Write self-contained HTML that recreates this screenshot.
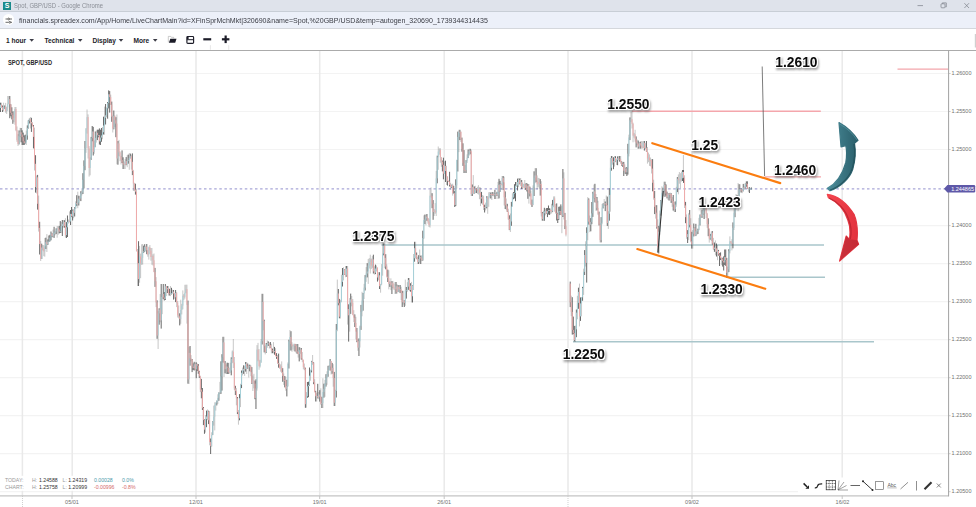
<!DOCTYPE html>
<html><head><meta charset="utf-8"><title>Spot, GBP/USD</title>
<style>
*{margin:0;padding:0;box-sizing:border-box}
html,body{width:976px;height:507px;overflow:hidden;background:#fff;font-family:"Liberation Sans",sans-serif}
#titlebar{position:absolute;left:0;top:0;width:976px;height:10.8px;background:#dfe3eb}
#titlebar .ico{position:absolute;left:3px;top:1.5px;width:8px;height:8px;background:#1a8a8a;color:#fff;font-size:7px;font-weight:bold;line-height:8px;text-align:center}
#titlebar .t{position:absolute;left:14px;top:1.2px;font-size:7px;line-height:9px;color:#8a8e96;white-space:nowrap;transform-origin:0 0;transform:scaleX(0.845)}
#urlbar{position:absolute;left:0;top:10.8px;width:976px;height:17.6px;background:#ecf0f9;border-top:1px solid #c8ced6}
#urlbar .c{position:absolute;left:3px;top:2.5px;width:11px;height:11px;border-radius:50%;background:#fff}
#urlbar .u{position:absolute;left:19px;top:4.1px;font-size:7.8px;line-height:10px;color:#3a3c44;white-space:nowrap;transform-origin:0 0;transform:scaleX(0.905)}
#tool{position:absolute;left:0;top:28.4px;width:976px;height:22.4px;background:#fff;border-top:1.2px solid #d4d7dc;border-bottom:1.3px solid #ababab}
#tool span{position:absolute;top:7.4px;font-size:6.6px;line-height:8px;font-weight:bold;color:#1c1c28;white-space:nowrap}
svg{position:absolute;left:0;top:0}
.lbl{font-family:"Liberation Sans",sans-serif;font-weight:bold;font-size:13.8px;fill:#0c0c0c}
.ax{font-family:"Liberation Sans",sans-serif;font-size:5.5px;fill:#707070}
.st{font-family:"Liberation Sans",sans-serif;font-size:5.2px}
</style></head><body>
<div id="titlebar"><div class="ico">S</div><div class="t">Spot, GBP/USD - Google Chrome</div></div>
<div id="urlbar"><div class="c"></div><div class="u">financials.spreadex.com/App/Home/LiveChartMain?id=XFinSprMchMkt|320690&amp;name=Spot,%20GBP/USD&amp;temp=autogen_320690_1739344314435</div></div>
<div id="tool">
<span style="left:6px">1 hour</span><span style="left:44.5px">Technical</span><span style="left:92.5px">Display</span><span style="left:133.5px">More</span>
</div>
<svg width="976" height="507" viewBox="0 0 976 507">
<defs>
<filter id="glow" x="-20%" y="-40%" width="140%" height="200%" color-interpolation-filters="sRGB">
<feMorphology in="SourceAlpha" operator="dilate" radius="1.1" result="d"/>
<feGaussianBlur in="d" stdDeviation="0.5" result="b"/>
<feComponentTransfer in="b" result="b2"><feFuncA type="linear" slope="1.5" intercept="0"/></feComponentTransfer>
<feFlood flood-color="#fff"/><feComposite in2="b2" operator="in" result="w"/>
<feGaussianBlur in="d" stdDeviation="1.0" result="sb"/>
<feOffset in="sb" dx="1.1" dy="1.5" result="so"/>
<feFlood flood-color="#666" flood-opacity="0.58"/><feComposite in2="so" operator="in" result="s"/>
<feMerge><feMergeNode in="s"/><feMergeNode in="w"/><feMergeNode in="SourceGraphic"/></feMerge>
</filter>
<linearGradient id="tg" x1="0" y1="0" x2="1" y2="0"><stop offset="0" stop-color="#4a8c9a"/><stop offset="1" stop-color="#2a5e6a"/></linearGradient>
<linearGradient id="rg" x1="0" y1="0" x2="1" y2="0"><stop offset="0" stop-color="#f4464f"/><stop offset="1" stop-color="#e2323e"/></linearGradient>
</defs>
<!-- title controls -->
<g stroke="#7a7e86" stroke-width="0.7" fill="none">
<path d="M917.5 5.6h5.5"/><rect x="941" y="3.8" width="4" height="4" rx="0.8"/><path d="M942.3 3.8v-0.9h4v4h-1"/><path d="M964.4 3.2l4.6 4.8M969 3.2l-4.6 4.8"/>
</g>
<!-- url icon -->
<g stroke="#444" stroke-width="0.8" fill="none"><path d="M5.5 19h2M9.5 19h2.5M5.5 22.3h3M10.8 22.3h1.2"/><circle cx="8.6" cy="19" r="0.9"/><circle cx="9.8" cy="22.3" r="0.9"/></g>
<!-- toolbar icons -->
<g fill="#1c1c28"><g fill="#3c3c46"><path d="M29.4 39.1h4.6l-2.3 2.7z"/><path d="M77.9 39.1h4.6l-2.3 2.7z"/><path d="M118.7 39.1h4.6l-2.3 2.7z"/><path d="M152.9 39.1h4.6l-2.3 2.7z"/></g>
<path d="M170.3 38.8h6.2l-1.3 4h-6.3z"/>
<path d="M186.9 36.4h1.7v2.6h-1.7z"/>
<rect x="203.3" y="38.2" width="7.9" height="2.2"/><rect x="221.9" y="38.2" width="7.5" height="2.2"/><rect x="224.55" y="35.5" width="2.2" height="7.6"/>
</g>
<path d="M168.3 42.4v-6h2.4l0.7 0.9h2.3v1.4" stroke="#aaa" stroke-width="0.6" fill="none"/>
<rect x="186.9" y="36.5" width="6.7" height="6.8" rx="0.9" stroke="#1c1c28" stroke-width="1.15" fill="none"/><path d="M186.9 39.7h6.7" stroke="#1c1c28" stroke-width="1"/>
<path d="M210.4 45.2v4.6M228.7 45.2v4.6" stroke="#dcdcdc" stroke-width="0.7"/>
<rect x="974.8" y="34" width="1.2" height="13.5" fill="#d0d0d0"/>
<!-- grid -->
<g stroke="#f3f3f3" stroke-width="1.2">
<path d="M0 73.5H948M0 111.5H948M0 149.5H948M0 225.6H948M0 263.6H948M0 301.6H948M0 339.6H948M0 377.7H948M0 415.7H948M0 453.7H948M0 491.7H948"/>
</g>
<g stroke="#e9e9e9" stroke-width="1.5">
<path d="M22.4 51V496M72.2 51V496M196 51V496M319.7 51V496M444.2 51V496M568 51V496M692 51V496M842.2 51V496"/>
</g>
<path d="M22.5 496V507M568 496V507" stroke="#bbb" stroke-width="0.7" stroke-dasharray="1 1"/>
<path d="M72 496v3M196 496v3M319.7 496v3M444.2 496v3M692 496v3M842.2 496v3" stroke="#aaa" stroke-width="0.7"/>
<!-- axes -->
<path d="M0 495.8H948.6" stroke="#c4c4c4" stroke-width="1.3"/>
<path d="M948.6 50.5V496.4" stroke="#a2a2a2" stroke-width="1"/>
<g stroke="#aaa" stroke-width="0.6"><path d="M948.6 73.5h2M948.6 111.5h2M948.6 149.5h2M948.6 225.6h2M948.6 263.6h2M948.6 301.6h2M948.6 339.6h2M948.6 377.7h2M948.6 415.7h2M948.6 453.7h2M948.6 491.7h2"/></g>
<g class="ax">
<text x="951.6" y="75.0">1.26000</text><text x="951.6" y="113.0">1.25500</text><text x="951.6" y="151.0">1.25000</text><text x="951.6" y="227.1">1.24000</text><text x="951.6" y="265.1">1.23500</text><text x="951.6" y="303.1">1.23000</text><text x="951.6" y="341.1">1.22500</text><text x="951.6" y="379.2">1.22000</text><text x="951.6" y="417.2">1.21500</text><text x="951.6" y="455.2">1.21000</text><text x="951.6" y="493.2">1.20500</text>
</g>
<g class="ax" text-anchor="middle">
<text x="72" y="504.3">05/01</text><text x="196" y="504.3">12/01</text><text x="319.7" y="504.3">19/01</text><text x="444.2" y="504.3">26/01</text><text x="692" y="504.3">09/02</text><text x="842.5" y="504.3">16/02</text>
</g>
<text x="8" y="65.1" textLength="44" lengthAdjust="spacingAndGlyphs" style="font-family:'Liberation Sans',sans-serif;font-size:6.3px;font-weight:bold" fill="#2a2a2a">SPOT, GBP/USD</text>
<!-- dashed current price -->
<path d="M0 188.8H946" stroke="#a8a6d8" stroke-width="1.2" stroke-dasharray="2.5 2.6"/>
<!-- horizontal level lines -->
<path d="M632 111.3H820.8M897.5 69.1H948M764.5 176.9H821" stroke="#f4a6ac" stroke-width="1.4"/>
<path d="M381.5 245H824M728 277.3H825M573 341.8H874" stroke="#a9c6cb" stroke-width="1.6"/>
<!-- candles -->
<g id="candles">
<path d="M0.52 102.7V112.0M2.58 105.5V112.0M4.63 105.5V108.7M9.79 96.0V118.2M10.81 104.3V116.3M11.84 107.3V119.4M12.87 111.5V123.8M19.05 130.4V144.4M21.12 128.0V142.3M22.15 130.3V145.0M23.18 132.6V145.0M24.21 135.4V145.0M25.24 134.7V143.6M27.30 125.4V139.7M28.33 120.3V128.5M29.36 118.6V123.5M31.42 117.8V131.9M33.48 125.1V148.4M35.54 155.2V192.6M37.60 174.9V209.6M39.66 221.8V254.5M41.72 243.7V259.0M45.84 237.7V249.0M47.90 239.4V244.9M48.93 235.5V241.9M49.96 234.8V241.4M50.99 231.5V240.3M52.02 233.3V237.2M54.08 226.8V237.9M56.14 228.3V234.1M59.23 225.9V233.4M60.26 221.1V233.0M62.32 220.0V236.0M64.38 220.2V227.7M66.44 222.1V238.0M67.47 215.5V237.0M70.56 210.0V225.0M71.59 207.0V217.1M72.62 209.6V220.5M74.68 207.2V216.5M76.74 195.2V206.1M78.80 195.7V205.5M80.86 191.2V201.1M82.92 173.2V194.0M83.95 160.4V188.4M84.98 141.0V170.2M91.16 136.9V159.8M92.19 126.0V141.3M93.22 126.9V155.5M95.28 131.5V147.2M97.34 129.7V140.1M98.37 129.7V137.3M99.40 128.4V144.5M100.43 129.7V145.0M101.46 128.0V141.8M103.52 116.7V134.5M105.58 104.0V124.5M107.64 102.0V118.7M108.67 90.4V108.4M109.70 91.1V112.6M111.76 101.6V121.8M113.82 110.5V129.3M115.88 117.2V137.2M117.94 141.0V164.7M122.06 150.4V163.0M123.09 157.3V169.0M126.18 157.1V165.2M128.24 154.6V163.7M130.30 153.6V158.4M132.36 153.4V175.1M135.45 183.7V194.6M138.54 241.2V286.0M143.69 245.7V252.8M144.72 244.2V251.8M146.78 244.0V254.2M155.02 267.9V286.9M157.08 300.3V338.8M159.14 308.3V324.7M161.20 284.0V328.6M163.26 284.0V299.1M164.29 292.0V300.5M165.32 284.0V300.0M167.38 286.0V293.0M169.44 288.8V295.5M171.50 287.8V294.4M173.56 290.0V299.6M175.62 290.0V302.1M179.74 313.3V325.4M187.98 300.6V383.7M190.04 346.0V365.7M192.10 359.0V372.1M193.13 363.4V370.0M194.16 361.8V370.5M196.22 362.3V378.2M197.25 363.8V371.0M198.28 364.0V373.8M199.31 370.8V378.0M201.37 378.9V398.3M202.40 388.0V410.0M203.43 407.0V425.1M204.46 419.4V433.8M206.52 410.6V427.2M208.58 410.7V424.1M210.64 438.5V454.0M212.70 421.3V435.1M216.82 400.6V405.4M218.88 392.4V400.8M220.94 361.3V393.9M221.97 354.2V390.6M223.00 336.8V362.5M225.06 361.0V373.3M227.12 362.7V374.0M228.15 362.9V374.0M231.24 357.3V375.3M235.36 385.8V395.0M237.42 397.0V414.1M239.48 394.1V420.3M241.54 370.5V388.1M243.60 365.3V373.8M245.66 362.0V371.6M247.72 363.5V368.7M249.78 364.7V371.3M251.84 367.1V383.9M254.93 380.7V399.2M255.96 379.3V409.0M262.14 293.8V344.5M264.20 319.7V352.4M266.25 343.0V352.8M268.31 341.4V345.9M270.37 342.0V348.1M272.43 348.6V353.2M274.49 346.9V354.7M276.55 353.1V358.9M278.61 353.6V367.7M282.73 368.2V381.8M284.79 376.0V387.4M286.85 379.8V396.4M288.91 339.7V368.5M290.97 331.2V350.5M295.09 344.0V351.5M297.15 344.0V353.8M299.21 347.2V361.4M301.27 348.0V359.7M305.39 367.7V407.8M307.45 382.0V397.8M308.48 381.7V397.2M309.51 367.5V385.6M311.57 360.9V372.4M313.63 362.3V384.2M315.69 390.8V401.5M317.75 383.8V398.4M319.81 390.2V401.6M321.87 396.8V408.0M323.93 383.7V397.7M325.99 374.2V386.6M328.05 365.8V376.8M330.11 359.0V370.5M332.17 362.9V373.7M334.23 371.9V406.0M336.29 324.0V397.5M338.35 289.0V305.3M339.38 298.9V318.3M342.47 268.0V286.5M344.53 269.2V274.8M346.59 266.0V276.6M348.65 304.3V341.6M350.71 293.6V313.9M354.83 314.4V327.0M356.89 328.0V342.2M358.95 338.4V356.0M361.01 304.9V329.9M363.07 293.1V310.7M365.13 275.1V290.5M367.19 263.2V277.4M373.37 254.7V273.5M375.43 264.6V274.1M377.49 268.0V281.6M379.55 272.2V289.0M383.67 243.4V255.3M385.73 254.2V269.3M387.79 269.6V282.0M389.85 281.6V286.9M391.91 281.2V294.0M396.03 282.0V293.7M398.09 285.0V292.0M400.15 285.0V293.1M402.21 290.8V307.0M404.27 300.3V307.0M406.33 287.0V298.6M408.39 278.0V289.8M410.45 283.2V291.7M412.51 285.1V302.5M414.57 241.8V261.7M416.63 252.5V259.2M418.69 255.2V264.0M420.75 255.6V264.0M422.81 230.7V260.6M424.87 214.6V224.0M426.93 214.0V220.7M432.08 193.2V208.2M433.11 200.1V219.8M437.23 155.7V183.3M442.38 160.6V171.4M443.41 157.7V179.3M445.47 160.7V182.0M447.53 176.7V185.6M449.59 171.8V186.5M451.65 184.7V187.9M453.71 185.8V193.8M454.74 191.1V207.0M455.77 179.3V206.1M457.83 131.6V171.5M459.89 129.8V140.1M461.95 137.6V151.7M462.98 143.3V165.9M464.01 150.1V173.0M466.07 160.1V173.0M468.13 149.5V158.1M470.19 148.8V154.3M472.25 184.5V196.0M474.31 186.4V193.6M476.37 188.5V193.0M481.52 191.9V203.4M484.61 204.7V212.5M486.67 196.3V208.3M490.79 192.5V198.5M492.85 192.0V195.7M494.91 189.8V199.0M496.97 191.8V195.9M499.03 178.8V198.4M500.06 180.8V191.9M503.15 176.0V190.1M505.21 191.4V209.0M507.27 203.8V211.9M509.33 215.3V230.1M511.39 201.9V225.8M513.45 192.0V199.2M514.48 184.2V198.5M515.51 182.0V201.2M517.57 178.6V190.5M519.63 178.5V184.3M521.69 180.0V189.0M525.81 183.5V189.9M526.84 183.1V191.4M527.87 184.0V198.8M529.93 186.7V196.4M531.99 199.6V207.0M534.05 171.3V196.0M536.11 168.2V182.3M540.23 179.1V195.6M542.29 212.0V220.7M544.35 207.8V220.8M546.41 208.1V213.6M547.44 208.0V217.1M548.47 205.5V214.5M549.50 208.3V214.9M552.59 199.9V212.1M556.71 203.4V220.5M557.74 212.8V223.0M558.77 206.8V220.0M559.80 206.5V215.1M560.83 204.4V214.8M562.89 169.0V217.0M564.95 212.9V229.1M570.22 281.6V307.1M572.27 297.2V334.6M573.30 316.6V334.2M574.33 325.9V341.4M576.39 309.5V337.2M578.45 287.7V308.8M580.51 297.4V320.9M582.57 286.9V300.8M584.63 250.1V275.0M586.69 227.3V282.6M588.75 198.4V224.6M590.81 218.1V231.3M591.84 202.0V224.2M592.87 191.8V216.9M594.93 183.8V202.4M596.99 197.0V210.4M599.05 211.6V225.5M601.11 217.1V242.4M603.17 203.3V208.4M605.23 201.5V211.1M607.29 196.6V225.9M609.35 188.1V220.7M611.41 156.0V170.7M613.47 157.2V169.2M615.53 156.2V162.1M617.59 156.4V165.2M619.65 156.0V161.7M621.71 161.3V165.8M622.74 162.5V166.9M623.77 161.9V176.0M625.83 167.6V174.1M626.86 167.0V176.0M627.89 143.8V174.6M629.95 117.4V140.1M636.13 136.4V147.4M638.19 140.5V148.7M640.25 141.7V148.7M644.37 141.0V150.6M646.43 141.0V151.7M652.61 159.1V191.3M654.67 191.0V214.1M656.73 205.2V228.6M658.79 225.9V253.5M660.85 200.0V215.7M662.91 187.7V196.4M664.97 181.7V196.9M666.00 184.4V195.6M667.03 191.6V198.4M669.09 193.2V200.6M671.15 193.2V202.9M673.21 195.0V210.6M675.27 201.4V212.0M677.33 177.1V192.1M682.48 170.0V181.0M683.51 170.0V182.9M685.57 201.9V223.2M687.63 230.1V243.0M689.69 210.0V227.4M691.75 231.8V248.6M693.81 223.5V236.5M695.87 223.8V236.1M697.93 228.7V234.0M699.99 214.6V225.5M702.05 209.8V217.9M704.11 205.0V219.0M708.23 218.3V236.2M710.29 233.9V239.6M712.35 231.1V244.6M714.41 242.5V251.8M716.47 243.5V256.5M718.53 249.9V255.6M719.56 253.2V266.0M720.59 252.4V260.0M722.65 257.8V266.6M723.68 256.4V270.5M724.71 249.5V265.0M725.74 249.5V265.9M726.77 257.9V278.0M728.83 249.2V272.1M732.95 222.4V248.3M735.01 201.0V217.2M737.07 195.1V207.4M739.13 184.2V198.9M741.19 188.4V192.5M743.25 183.9V191.3M745.31 183.5V188.4M746.34 181.4V186.8M747.37 181.3V189.0M749.43 187.2V193.0M751.49 187.5V189.6" stroke="#404040" stroke-width="0.9" fill="none" opacity="0.88"/>
<path d="M1.54 102.7V108.0M3.60 102.7V111.1M5.67 102.9V112.8M6.70 106.7V114.0M7.73 96.0V110.9M8.76 96.0V104.2M13.90 111.1V122.2M14.93 107.0V124.7M15.96 107.0V131.2M16.99 126.5V141.9M18.02 134.1V146.0M20.09 127.8V137.3M26.27 130.6V145.0M30.39 117.0V128.5M32.45 122.0V126.4M34.51 127.6V170.5M36.57 175.5V193.5M38.63 195.6V231.6M40.69 241.0V261.0M42.75 245.0V250.4M43.78 245.2V256.2M44.81 238.0V256.7M46.87 234.1V252.0M53.05 229.6V237.4M55.11 231.1V235.3M57.17 226.0V237.7M58.20 226.3V234.8M61.29 222.0V233.0M63.35 220.0V227.5M65.41 218.2V237.5M68.50 219.5V223.5M69.53 211.4V222.4M73.65 209.1V218.2M75.71 201.3V208.9M77.77 191.7V208.2M79.83 195.9V200.4M81.89 189.5V195.4M86.01 128.1V152.8M87.04 109.5V133.6M88.07 114.4V158.5M89.10 146.1V176.6M90.13 157.3V175.3M94.25 140.5V153.8M96.31 130.7V142.6M102.49 127.0V139.2M104.55 106.6V134.7M106.61 107.4V117.1M110.73 94.7V105.0M112.79 115.6V132.5M114.85 115.6V127.1M116.91 114.5V164.3M118.97 139.9V156.1M120.00 151.3V161.2M121.03 155.9V164.5M124.12 161.8V169.0M125.15 159.1V169.0M127.21 155.2V167.2M129.27 153.1V169.8M131.33 154.7V169.6M133.39 169.9V191.0M134.42 182.8V191.1M136.48 188.8V251.5M137.51 249.0V286.0M139.57 245.9V282.7M140.60 253.6V278.1M141.63 244.3V264.9M142.66 244.0V264.6M145.75 246.3V250.9M147.81 250.2V256.7M148.84 246.6V259.6M149.87 245.0V253.9M150.90 248.0V260.7M151.93 248.0V264.8M152.96 254.3V265.5M153.99 253.5V272.2M156.05 277.1V307.1M158.11 311.1V349.0M160.17 294.0V322.3M162.23 293.8V314.2M166.35 285.9V296.1M168.41 286.0V295.5M170.47 286.0V296.1M172.53 289.7V293.7M174.59 292.9V298.8M176.65 292.2V307.1M177.68 301.1V317.5M178.71 305.5V318.4M180.77 299.7V323.8M181.80 303.8V314.4M182.83 290.4V309.3M183.86 294.1V300.1M184.89 284.8V298.6M185.92 284.7V293.3M186.95 284.7V323.6M189.01 347.1V384.0M191.07 355.1V361.4M195.19 362.5V369.9M200.34 375.7V392.1M205.49 415.2V432.6M207.55 409.4V420.1M209.61 411.1V445.3M211.67 432.3V446.8M213.73 405.6V425.6M214.76 402.3V430.4M215.79 402.3V410.6M217.85 394.3V403.9M219.91 381.9V394.1M224.03 336.8V377.0M226.09 364.4V374.0M229.18 367.7V374.0M230.21 362.7V372.7M232.27 350.5V363.2M233.30 339.0V368.0M234.33 357.0V390.1M236.39 388.1V405.3M238.45 410.0V424.7M240.51 383.8V407.1M242.57 367.6V375.4M244.63 365.6V375.9M246.69 362.0V374.0M248.75 364.8V377.5M250.81 365.2V376.3M252.87 375.5V391.0M253.90 373.8V388.3M256.99 345.1V390.7M258.02 342.9V361.3M259.05 349.1V369.8M260.08 359.8V367.5M261.11 339.0V362.8M263.17 293.8V330.3M265.23 345.4V354.4M267.28 340.4V347.8M269.34 342.6V348.5M271.40 343.8V353.3M273.46 342.1V353.4M275.52 348.2V356.2M277.58 355.0V364.0M279.64 363.4V368.8M280.67 364.4V371.7M281.70 361.4V373.1M283.76 373.5V384.9M285.82 376.7V390.8M287.88 362.4V386.9M289.94 330.0V350.5M292.00 342.3V351.8M293.03 344.9V349.7M294.06 343.8V351.2M296.12 344.0V353.2M298.18 344.0V357.6M300.24 347.5V353.8M302.30 352.0V362.2M303.33 359.6V369.3M304.36 363.5V370.2M306.42 392.1V407.7M310.54 369.5V380.7M312.60 355.0V364.8M314.66 379.2V392.3M316.72 392.9V401.5M318.78 392.0V399.2M320.84 388.3V404.7M322.90 378.3V408.0M324.96 379.9V396.8M327.02 371.3V384.8M329.08 365.2V370.3M331.14 361.0V374.5M333.20 364.2V386.7M335.26 389.8V406.0M337.32 279.6V331.2M340.41 299.8V318.5M341.44 274.8V302.3M343.50 267.3V280.4M345.56 266.0V277.2M347.62 266.0V324.6M349.68 298.1V331.6M351.74 296.0V306.3M352.77 299.0V315.3M353.80 310.2V322.1M355.86 316.8V339.4M357.92 339.4V350.8M359.98 325.6V347.5M362.04 291.8V316.3M364.10 283.9V299.0M366.16 267.1V281.8M368.22 259.0V283.9M369.25 258.1V268.5M370.28 254.7V273.5M371.31 258.5V269.1M372.34 256.1V267.8M374.40 266.3V274.7M376.46 265.5V271.5M378.52 272.2V280.3M380.58 283.9V292.7M381.61 264.1V285.2M382.64 243.4V275.7M384.70 243.4V268.2M386.76 264.3V277.4M388.82 270.3V289.4M390.88 278.3V290.1M392.94 280.9V288.3M393.97 283.7V290.0M395.00 282.0V294.0M397.06 284.2V293.6M399.12 285.0V292.4M401.18 286.7V300.1M403.24 290.8V304.6M405.30 279.6V305.8M407.36 282.2V291.8M409.42 278.0V291.1M411.48 281.9V302.5M413.54 254.0V290.0M415.60 241.8V258.3M417.66 256.8V264.0M419.72 249.5V262.7M421.78 255.4V261.1M423.84 215.4V239.0M425.90 214.6V225.3M427.96 217.9V223.7M428.99 218.8V227.0M430.02 189.8V227.6M431.05 187.4V197.5M434.14 209.0V216.0M435.17 203.1V213.8M436.20 170.9V216.0M438.26 146.5V169.8M439.29 148.3V154.7M440.32 148.2V162.7M441.35 157.2V166.8M444.44 161.4V174.0M446.50 165.8V185.0M448.56 180.5V182.0M450.62 182.9V189.7M452.68 183.7V195.6M456.80 159.7V188.4M458.86 129.8V152.1M460.92 131.6V142.0M465.04 165.0V173.0M467.10 154.4V163.0M469.16 148.8V155.6M471.22 149.6V196.0M473.28 175.1V194.1M475.34 185.8V193.2M477.40 186.8V193.8M478.43 185.2V194.5M479.46 187.1V199.2M480.49 187.4V206.1M482.55 195.1V204.8M483.58 195.7V210.0M485.64 202.6V210.4M487.70 196.1V213.8M488.73 192.3V206.8M489.76 192.0V197.7M491.82 192.0V200.0M493.88 193.4V196.5M495.94 193.1V199.0M498.00 181.9V199.0M501.09 183.1V189.8M502.12 176.0V185.3M504.18 176.7V205.4M506.24 198.5V209.9M508.30 208.7V219.9M510.36 213.5V232.0M512.42 193.3V206.6M516.54 182.0V186.7M518.60 178.0V187.0M520.66 178.0V186.1M522.72 182.7V189.0M523.75 183.9V187.6M524.78 180.0V189.9M528.90 184.0V203.6M530.96 190.5V205.1M533.02 185.4V205.2M535.08 168.1V183.2M537.14 175.4V189.4M538.17 177.8V186.9M539.20 178.1V188.8M541.26 181.2V216.5M543.32 210.7V221.0M545.38 208.8V215.3M550.53 208.5V214.3M551.56 203.8V213.5M553.62 196.4V207.2M554.65 196.4V211.7M555.68 203.9V213.7M561.86 206.2V233.2M563.92 172.3V219.5M565.98 220.1V236.4M571.25 295.7V316.1M575.36 325.7V342.0M577.42 295.8V319.3M579.48 283.6V326.4M581.54 297.0V316.3M583.60 268.7V294.9M585.66 241.3V266.5M587.72 197.1V240.3M589.78 215.6V232.1M593.90 184.6V198.5M595.96 194.0V210.8M598.02 200.8V215.1M600.08 223.5V242.4M602.14 204.0V224.4M604.20 199.0V205.9M606.26 195.5V205.9M608.32 211.2V228.9M610.38 158.0V211.7M612.44 156.0V164.7M614.50 156.0V166.6M616.56 158.6V165.0M618.62 156.0V160.3M620.68 156.0V163.8M624.80 164.5V173.8M628.92 134.7V156.4M630.98 111.5V122.1M632.01 110.7V128.5M633.04 122.7V142.3M634.07 132.9V137.7M635.10 129.8V141.7M637.16 139.5V145.2M639.22 142.0V148.7M641.28 141.0V148.7M642.31 141.3V148.7M643.34 141.0V147.9M645.40 143.1V149.2M647.46 147.0V163.6M648.49 152.6V162.2M649.52 154.4V165.9M650.55 157.5V166.3M651.58 159.0V173.5M653.64 179.7V199.7M655.70 205.1V218.6M657.76 219.4V252.8M659.82 210.6V235.2M661.88 186.3V203.7M663.94 181.7V191.7M668.06 193.0V200.0M670.12 192.6V198.1M672.18 197.0V206.8M674.24 201.8V212.0M676.30 186.8V206.8M678.36 174.4V194.3M679.39 172.0V183.7M680.42 173.2V188.3M681.45 171.7V181.6M684.54 175.3V208.0M686.60 214.4V238.8M688.66 213.2V240.1M690.72 218.2V242.3M692.78 230.0V248.6M694.84 227.0V235.6M696.90 230.7V235.0M698.96 217.9V230.3M701.02 210.7V217.7M703.08 205.0V215.0M705.14 205.0V210.2M706.17 205.0V218.0M707.20 212.8V227.9M709.26 228.5V242.6M711.32 231.3V241.1M713.38 237.9V249.9M715.44 240.4V255.2M717.50 245.0V260.2M721.62 257.4V265.2M727.80 266.7V278.0M729.86 236.4V253.4M730.89 241.1V244.1M731.92 239.2V250.4M733.98 208.2V230.0M736.04 194.0V210.2M738.10 183.0V211.1M740.16 184.3V192.4M742.22 189.0V193.2M744.28 186.4V189.7M748.40 187.5V191.9M750.46 187.7V190.0M683.40 155.0V176.0" stroke="#585858" stroke-width="0.75" fill="none" opacity="0.45"/>
<path d="M0.52 104.7V108.0M3.60 107.1V110.0M4.63 106.7V107.5M6.70 107.3V111.1M7.73 103.8V107.3M8.76 99.1V103.8M13.90 117.9V119.9M14.93 109.0V117.9M19.05 136.1V144.0M20.09 132.3V136.1M25.24 142.5V143.3M26.27 135.5V142.5M27.30 127.9V135.5M28.33 120.7V127.9M29.36 119.2V120.7M36.57 177.3V187.0M41.72 247.5V259.0M44.81 246.4V251.4M45.84 242.2V246.4M47.90 241.5V244.1M48.93 240.8V241.6M49.96 237.7V240.8M50.99 233.5V237.7M53.05 234.1V236.0M54.08 232.5V234.1M55.11 231.4V232.5M56.14 230.4V231.4M57.17 228.0V230.4M60.26 231.0V231.8M61.29 226.1V231.0M62.32 223.9V226.1M63.35 222.0V223.9M66.44 227.3V235.1M67.47 221.8V227.3M68.50 220.9V221.8M70.56 213.9V221.5M72.62 210.5V216.4M74.68 208.3V212.8M75.71 203.1V208.3M77.77 202.6V203.9M78.80 198.6V202.6M80.86 193.4V198.6M81.89 192.4V193.4M82.92 179.8V192.4M83.95 166.0V179.8M84.98 148.1V166.0M86.01 128.5V148.1M87.04 117.1V128.5M90.13 158.8V168.0M91.16 138.2V158.8M92.19 131.5V138.2M94.25 147.0V151.9M95.28 137.8V147.0M96.31 132.8V137.8M98.37 135.1V135.9M100.43 137.6V141.4M101.46 135.4V137.6M102.49 132.2V135.4M103.52 125.5V132.2M104.55 117.8V125.5M105.58 115.3V117.8M106.61 108.3V115.3M107.64 103.1V108.3M108.67 94.3V103.1M113.82 115.8V128.7M117.94 143.4V158.5M125.15 161.1V164.3M127.21 161.0V164.7M128.24 160.2V161.0M129.27 158.1V160.2M130.30 156.2V158.1M139.57 256.5V279.1M141.63 257.9V263.5M142.66 252.1V257.9M143.69 251.3V252.1M144.72 246.7V251.3M148.84 247.4V254.7M151.93 256.0V257.0M158.11 313.4V335.5M159.14 309.6V313.4M161.20 296.9V320.4M162.23 294.0V296.9M165.32 286.3V298.9M167.38 288.0V289.3M170.47 293.3V294.1M171.50 293.1V293.9M172.53 291.7V293.1M175.62 292.9V297.3M180.77 310.0V319.1M181.80 305.6V310.0M182.83 295.7V305.6M184.89 292.8V296.8M185.92 289.2V292.8M189.01 352.9V379.4M194.16 364.3V368.0M196.22 364.0V369.3M205.49 419.2V429.7M206.52 416.5V419.2M207.55 411.4V416.5M211.67 435.0V446.1M212.70 421.7V435.0M213.73 416.6V421.7M214.76 405.3V416.6M215.79 402.8V405.3M216.82 400.8V402.8M217.85 397.9V400.8M218.88 392.9V397.9M219.91 392.3V393.1M220.94 376.4V392.3M221.97 357.5V376.4M223.00 342.4V357.5M226.09 366.6V369.2M230.21 370.4V372.0M231.24 359.0V370.4M232.27 351.6V359.0M239.48 398.2V418.3M240.51 384.8V398.2M241.54 372.8V384.8M242.57 370.7V372.8M243.60 368.9V370.7M245.66 364.0V369.0M248.75 366.7V367.7M249.78 366.2V367.0M252.87 380.3V383.2M255.96 388.4V398.1M256.99 349.6V388.4M260.08 362.5V366.3M261.11 341.2V362.5M262.14 301.8V341.2M266.25 344.5V352.0M267.28 344.2V345.0M268.31 343.4V344.2M274.49 351.0V351.8M280.67 366.4V368.1M286.85 386.0V388.8M287.88 363.9V386.0M288.91 341.3V363.9M289.94 337.0V341.3M293.03 345.2V346.4M294.06 343.8V345.2M299.21 350.2V354.2M300.24 349.5V350.3M306.42 396.3V404.2M307.45 386.3V396.3M308.48 384.9V386.3M309.51 375.7V384.9M310.54 370.5V375.7M311.57 361.5V370.5M316.72 395.9V396.7M318.78 394.6V397.7M321.87 403.2V404.1M322.90 392.0V403.2M323.93 388.8V392.0M324.96 383.3V388.8M325.99 377.8V383.3M327.02 374.2V377.8M328.05 370.0V374.2M329.08 366.5V370.0M330.11 361.0V366.5M332.17 367.8V371.1M335.26 390.9V402.7M336.29 329.7V390.9M337.32 293.5V329.7M340.41 301.8V316.7M341.44 281.9V301.8M342.47 275.0V281.9M343.50 269.3V275.0M346.59 268.5V275.7M349.68 302.7V315.3M350.71 299.4V302.7M358.95 341.3V347.6M359.98 326.3V341.3M361.01 311.7V326.3M362.04 300.6V311.7M363.07 293.5V300.6M364.10 287.7V293.5M365.13 277.1V287.7M366.16 273.6V277.1M367.19 271.4V273.6M368.22 265.6V271.4M369.25 262.1V265.6M370.28 259.3V262.1M372.34 259.4V265.5M375.43 268.5V272.7M376.46 267.3V268.5M378.52 275.3V277.5M380.58 284.1V286.2M381.61 268.2V284.1M382.64 253.6V268.2M383.67 245.6V253.6M389.85 281.8V284.0M391.91 282.8V285.3M396.03 286.3V289.1M398.09 287.0V292.0M400.15 289.2V290.0M403.24 300.6V302.3M405.30 290.5V302.9M406.33 290.3V291.1M407.36 286.7V290.3M408.39 280.0V286.7M410.45 285.6V290.0M412.51 285.3V296.3M413.54 258.3V285.3M414.57 248.2V258.3M418.69 259.0V262.0M419.72 257.2V259.0M422.81 238.0V260.1M423.84 220.0V238.0M424.87 219.6V220.4M425.90 216.6V219.6M430.02 195.7V225.1M434.14 210.4V212.0M436.20 178.4V212.5M437.23 157.2V178.4M438.26 151.6V157.2M439.29 149.9V151.6M444.44 165.9V173.7M451.65 185.2V187.1M453.71 193.1V193.9M455.77 185.3V205.0M456.80 160.0V185.3M457.83 136.9V160.0M458.86 131.8V136.9M466.07 161.3V170.2M467.10 157.8V161.3M468.13 154.4V157.8M469.16 150.8V154.4M472.25 186.9V194.0M474.31 188.4V193.3M478.43 188.8V190.8M481.52 197.2V198.6M485.64 207.0V207.8M486.67 197.4V207.0M488.73 196.9V199.1M489.76 194.0V196.9M494.91 194.2V195.0M495.94 193.9V194.7M498.00 184.9V195.4M500.06 184.1V191.7M502.12 178.0V185.0M510.36 221.5V229.8M511.39 206.5V221.5M512.42 197.4V206.5M513.45 193.2V197.4M514.48 192.9V193.7M515.51 185.6V192.9M516.54 185.5V186.3M517.57 182.0V185.5M518.60 180.0V182.0M520.66 182.0V183.7M523.75 184.1V187.0M525.81 184.4V187.9M527.87 186.0V190.3M533.02 187.7V205.0M534.05 177.6V187.7M535.08 175.4V177.6M538.17 182.1V184.4M543.32 213.3V219.0M544.35 211.4V213.3M545.38 210.8V211.6M547.44 211.1V213.4M548.47 210.1V211.1M552.59 205.4V211.5M553.62 198.4V205.4M558.77 211.3V219.0M559.80 211.0V211.8M562.89 178.4V215.6M575.36 329.4V340.0M576.39 312.6V329.4M577.42 302.9V312.6M578.45 291.9V302.9M580.51 303.4V316.4M581.54 297.4V303.4M582.57 288.1V297.4M583.60 271.9V288.1M584.63 255.0V271.9M586.69 232.9V262.9M587.72 199.5V232.9M590.81 222.0V224.9M591.84 213.4V222.0M592.87 193.5V213.4M593.90 191.4V193.5M601.11 222.7V240.1M602.14 207.7V222.7M603.17 203.5V207.7M605.23 203.3V204.1M608.32 213.7V223.1M609.35 194.9V213.7M610.38 167.8V194.9M611.41 158.0V167.8M613.47 161.3V162.4M614.50 158.0V161.3M616.56 159.9V161.8M617.59 158.3V159.9M622.74 163.6V165.3M624.80 168.4V170.7M626.86 168.4V172.3M627.89 153.7V168.4M628.92 137.5V153.7M629.95 120.3V137.5M630.98 119.2V120.3M634.07 134.3V135.7M639.22 143.1V146.6M643.34 143.0V146.7M645.40 147.7V148.5M648.49 157.5V158.5M658.79 231.7V247.3M659.82 213.6V231.7M660.85 200.8V213.6M661.88 192.9V200.8M662.91 190.6V192.9M663.94 185.0V190.6M668.06 193.8V197.3M675.27 204.5V209.2M676.30 188.6V204.5M677.33 178.7V188.6M679.39 179.4V180.3M681.45 178.3V180.5M682.48 172.0V178.3M687.63 234.1V237.1M688.66 214.6V234.1M692.78 233.8V244.4M693.81 228.2V233.8M695.87 231.3V235.6M696.90 231.1V231.9M697.93 229.8V231.1M698.96 224.7V229.8M699.99 214.7V224.7M702.05 213.6V216.4M703.08 210.2V213.6M704.11 208.3V210.2M705.14 207.0V208.3M710.29 235.8V238.6M711.32 232.7V235.8M714.41 247.6V249.0M717.50 250.9V251.8M724.71 257.0V262.5M727.80 269.5V272.8M728.83 251.2V269.5M729.86 241.3V251.2M732.95 227.9V243.4M733.98 212.7V227.9M735.01 207.8V212.7M736.04 201.7V207.8M737.07 201.6V202.4M738.10 197.6V201.6M739.13 189.6V197.6M740.16 189.1V189.9M743.25 187.4V191.2M745.31 183.6V187.7M748.40 188.7V189.5M749.43 188.6V189.4M750.46 188.6V189.4M751.49 188.6V189.4" stroke="#a6d0d8" stroke-width="1.0" fill="none"/>
<path d="M1.54 104.7V107.1M2.58 107.1V110.0M5.67 106.7V111.1M9.79 99.1V104.4M10.81 104.4V112.9M11.84 112.9V114.8M12.87 114.8V119.9M15.96 109.0V130.1M16.99 130.1V140.2M18.02 140.2V144.0M21.12 132.3V134.5M22.15 134.5V137.2M23.18 137.2V141.3M24.21 141.3V143.0M30.39 119.2V122.0M31.42 122.0V123.4M32.45 123.4V126.3M33.48 126.3V136.9M34.51 136.9V163.8M35.54 163.8V187.0M37.60 177.3V203.8M38.63 203.8V227.9M39.66 227.9V244.1M40.69 244.1V259.0M42.75 247.5V248.4M43.78 248.4V251.4M46.87 242.2V244.1M52.02 233.5V236.0M58.20 228.0V229.5M59.23 229.5V231.6M64.38 222.0V226.0M65.41 226.0V235.1M69.53 220.9V221.7M71.59 213.9V216.4M73.65 210.5V212.8M76.74 203.1V203.9M79.83 198.6V199.4M88.07 117.1V148.4M89.10 148.4V168.0M93.22 131.5V151.9M97.34 132.8V135.2M99.40 135.1V141.4M109.70 94.3V97.1M110.73 97.1V104.6M111.76 104.6V116.7M112.79 116.7V128.7M114.85 115.8V120.2M115.88 120.2V123.6M116.91 123.6V158.5M118.97 143.4V152.4M120.00 152.4V156.5M121.03 156.5V160.0M122.06 160.0V162.5M123.09 162.5V163.9M124.12 163.9V164.7M126.18 161.1V164.7M131.33 156.2V161.8M132.36 161.8V171.0M133.39 171.0V183.5M134.42 183.5V189.6M135.45 189.6V191.7M136.48 191.7V251.1M137.51 251.1V263.2M138.54 263.2V279.1M140.60 256.5V263.5M145.75 246.7V247.5M146.78 246.7V250.3M147.81 250.3V254.7M149.87 247.4V250.7M150.90 250.7V257.0M152.96 256.0V260.3M153.99 260.3V272.0M155.02 272.0V281.3M156.05 281.3V302.4M157.08 302.4V335.5M160.17 309.6V320.4M163.26 294.0V297.5M164.29 297.5V298.9M166.35 286.3V289.3M168.41 288.0V293.5M169.44 293.5V294.3M173.56 291.7V293.6M174.59 293.6V297.3M176.65 292.9V302.7M177.68 302.7V315.4M178.71 315.4V316.4M179.74 316.4V319.1M183.86 295.7V296.8M186.95 289.2V304.8M187.98 304.8V379.4M190.04 352.9V358.4M191.07 358.4V359.7M192.10 359.7V366.6M193.13 366.6V368.0M195.19 364.3V369.3M197.25 364.0V365.8M198.28 365.8V371.5M199.31 371.5V376.3M200.34 376.3V389.5M201.37 389.5V391.7M202.40 391.7V408.1M203.43 408.1V420.1M204.46 420.1V429.7M208.58 411.4V420.3M209.61 420.3V442.1M210.64 442.1V446.1M224.03 342.4V363.2M225.06 363.2V369.2M227.12 366.6V367.9M228.15 367.9V372.0M229.18 372.0V372.8M233.30 351.6V362.5M234.33 362.5V388.4M235.36 388.4V391.1M236.39 391.1V398.3M237.42 398.3V412.2M238.45 412.2V418.3M244.63 368.9V369.7M246.69 364.0V366.4M247.72 366.4V367.7M250.81 366.2V372.1M251.84 372.1V383.2M253.90 380.3V383.6M254.93 383.6V398.1M258.02 349.6V360.5M259.05 360.5V366.3M263.17 301.8V321.1M264.20 321.1V346.3M265.23 346.3V352.0M269.34 343.4V345.1M270.37 345.1V347.9M271.40 347.9V350.4M272.43 350.4V351.2M273.46 351.0V351.8M275.52 351.0V356.2M276.55 356.2V357.0M277.58 356.7V363.1M278.61 363.1V364.3M279.64 364.3V368.1M281.70 366.4V372.0M282.73 372.0V375.9M283.76 375.9V380.2M284.79 380.2V381.0M285.82 380.4V388.8M290.97 337.0V344.1M292.00 344.1V346.4M295.09 343.8V346.0M296.12 346.0V351.4M297.15 351.4V352.2M298.18 352.0V354.2M301.27 349.5V358.5M302.30 358.5V359.9M303.33 359.9V366.9M304.36 366.9V368.4M305.39 368.4V404.2M312.60 361.5V363.1M313.63 363.1V382.3M314.66 382.3V392.2M315.69 392.2V396.3M317.75 395.9V397.7M319.81 394.6V396.8M320.84 396.8V404.1M331.14 361.0V371.1M333.20 367.8V377.9M334.23 377.9V402.7M338.35 293.5V303.2M339.38 303.2V316.7M344.53 269.3V274.7M345.56 274.7V275.7M347.62 268.5V309.0M348.65 309.0V315.3M351.74 299.4V302.8M352.77 302.8V314.8M353.80 314.8V317.7M354.83 317.7V322.9M355.86 322.9V331.6M356.89 331.6V341.0M357.92 341.0V347.6M371.31 259.3V265.5M373.37 259.4V271.4M374.40 271.4V272.7M377.49 267.3V277.5M379.55 275.3V286.2M384.70 245.6V257.8M385.73 257.8V266.5M386.76 266.5V276.5M387.79 276.5V278.1M388.82 278.1V284.0M390.88 281.8V285.3M392.94 282.8V286.9M393.97 286.9V288.6M395.00 288.6V289.4M397.06 286.3V292.0M399.12 287.0V289.4M401.18 289.2V292.9M402.21 292.9V302.3M404.27 300.6V302.9M409.42 280.0V290.0M411.48 285.6V296.3M415.60 248.2V254.8M416.63 254.8V258.9M417.66 258.9V262.0M420.75 257.2V258.3M421.78 258.3V260.1M426.93 216.6V218.0M427.96 218.0V221.5M428.99 221.5V225.1M431.05 195.7V196.5M432.08 196.2V203.8M433.11 203.8V212.0M435.17 210.4V212.5M440.32 149.9V157.3M441.35 157.3V161.5M442.38 161.5V164.8M443.41 164.8V173.7M445.47 165.9V171.0M446.50 171.0V176.9M447.53 176.9V181.1M448.56 181.1V181.9M449.59 181.5V184.9M450.62 184.9V187.1M452.68 185.2V193.5M454.74 193.1V205.0M459.89 131.8V132.6M460.92 131.8V139.4M461.95 139.4V149.1M462.98 149.1V163.2M464.01 163.2V170.0M465.04 170.0V170.8M470.19 150.8V151.6M471.22 151.3V194.0M473.28 186.9V193.3M475.34 188.4V189.4M476.37 189.4V190.2M477.40 189.4V190.8M479.46 188.8V192.7M480.49 192.7V198.6M482.55 197.2V199.4M483.58 199.4V207.0M484.61 207.0V207.8M487.70 197.4V199.1M490.79 194.0V194.8M491.82 194.0V194.8M492.85 194.0V194.8M493.88 194.0V194.8M496.97 193.9V195.4M499.03 184.9V191.7M501.09 184.1V185.0M503.15 178.0V182.3M504.18 182.3V197.3M505.21 197.3V205.1M506.24 205.1V206.3M507.27 206.3V211.7M508.30 211.7V218.8M509.33 218.8V229.8M519.63 180.0V183.7M521.69 182.0V187.0M522.72 187.0V187.8M524.78 184.1V187.9M526.84 184.4V190.3M528.90 186.0V192.9M529.93 192.9V193.7M530.96 193.6V204.3M531.99 204.3V205.1M536.11 175.4V180.5M537.14 180.5V184.4M539.20 182.1V183.9M540.23 183.9V184.7M541.26 184.2V213.3M542.29 213.3V219.0M546.41 210.8V213.4M549.50 210.1V210.9M550.53 210.3V211.1M551.56 210.3V211.5M554.65 198.4V205.7M555.68 205.7V212.9M556.71 212.9V213.7M557.74 213.5V219.0M560.83 211.0V214.6M561.86 214.6V215.6M563.92 178.4V214.4M564.95 214.4V226.1M565.98 226.1V234.7M570.22 283.6V302.4M571.25 302.4V311.9M572.27 311.9V329.9M573.30 329.9V333.1M574.33 333.1V340.0M579.48 291.9V316.4M585.66 255.0V262.9M588.75 199.5V221.7M589.78 221.7V224.9M594.93 191.4V198.0M595.96 198.0V202.7M596.99 202.7V207.9M598.02 207.9V213.8M599.05 213.8V224.7M600.08 224.7V240.1M604.20 203.5V204.3M606.26 203.3V205.2M607.29 205.2V223.1M612.44 158.0V162.4M615.53 158.0V161.8M618.62 158.3V159.1M619.65 158.8V159.6M620.68 159.3V162.1M621.71 162.1V165.3M623.77 163.6V170.7M625.83 168.4V172.3M632.01 119.2V123.8M633.04 123.8V135.7M635.10 134.3V139.2M636.13 139.2V142.7M637.16 142.7V143.7M638.19 143.7V146.6M640.25 143.1V145.6M641.28 145.6V146.7M642.31 146.7V147.5M644.37 143.0V148.3M646.43 147.7V151.6M647.46 151.6V158.5M649.52 157.5V160.3M650.55 160.3V161.1M651.58 160.4V168.6M652.61 168.6V182.8M653.64 182.8V198.0M654.67 198.0V206.8M655.70 206.8V212.6M656.73 212.6V227.4M657.76 227.4V247.3M664.97 185.0V189.4M666.00 189.4V193.6M667.03 193.6V197.3M669.09 193.8V194.6M670.12 194.0V194.8M671.15 194.0V199.4M672.18 199.4V201.0M673.21 201.0V204.7M674.24 204.7V209.2M678.36 178.7V180.3M680.42 179.4V180.5M683.51 172.0V177.8M684.54 177.8V205.4M685.57 205.4V217.2M686.60 217.2V237.1M689.69 214.6V224.9M690.72 224.9V241.2M691.75 241.2V244.4M694.84 228.2V235.6M701.02 214.7V216.4M706.17 207.0V213.7M707.20 213.7V224.2M708.23 224.2V228.7M709.26 228.7V238.6M712.35 232.7V243.7M713.38 243.7V249.0M715.44 247.6V248.4M716.47 248.4V251.8M718.53 250.9V254.5M719.56 254.5V255.7M720.59 255.7V258.3M721.62 258.3V259.1M722.65 258.6V260.9M723.68 260.9V262.5M725.74 257.0V260.0M726.77 260.0V272.8M730.89 241.3V243.0M731.92 243.0V243.8M741.19 189.1V190.6M742.22 190.6V191.4M744.28 187.4V188.2M746.34 183.6V184.4M747.37 183.9V188.9" stroke="#efaaaa" stroke-width="1.0" fill="none"/>
</g>
<!-- annotation lines -->
<path d="M762.2 66.5L764.6 176" stroke="#505050" stroke-width="0.75"/>
<path d="M657.9 252.5L663.2 191" stroke="#333" stroke-width="1.1"/>
<path d="M652.3 143.2L780.2 183.1" stroke="#fb7d10" stroke-width="2.2" stroke-linecap="round"/>
<path d="M637.3 249.1L765.3 288.8" stroke="#fb7d10" stroke-width="2.1" stroke-linecap="round"/>
<!-- arrows -->
<path d="M827.3 188.4C835.5 184 842 176 845.8 162.4C847 155 846.8 150 845.8 145.6L841 146.8L839 122.6C846 126.5 853 132.5 858 140.3L854.5 143.4C856 152 855.3 160 852.9 168.7C850 178 841 187 830 190.8Z" fill="url(#tg)" stroke="url(#tg)" stroke-width="1.2" stroke-linejoin="round"/>
<path d="M827.3 194.3C837.4 195.6 846.6 202.6 854.2 214.6C857.1 221.8 857.9 231 857 240.3L858.6 244.2L839.6 261L846.2 236L849.4 239.3C850.6 232 849.6 224.4 847.8 220C844.6 209.6 836.8 201.6 828.4 197.7Z" fill="url(#rg)" stroke="url(#rg)" stroke-width="1.2" stroke-linejoin="round"/>
<path d="M846.2 236L849.4 239.3L857 240.3L858.6 244.2L839.6 261Z" fill="#a8222c" opacity="0.5"/>
<path d="M854 144C855.4 152 854.7 160 852.3 168.4C849.4 177.5 840.6 186.3 830.2 190.2" stroke="#22505a" stroke-width="1.3" fill="none" opacity="0.8"/>
<path d="M839.6 124C846 127.5 852.6 133 857.2 140.2" stroke="#5a9aa6" stroke-width="0.9" fill="none" opacity="0.7"/>
<path d="M850.3 239C851.6 232 850.6 224 848.8 219.9C845.6 209.5 837.4 201.5 829 198" stroke="#b4222e" stroke-width="1.3" fill="none" opacity="0.75"/>
<!-- labels -->
<g class="lbl" filter="url(#glow)">
<text x="775.3" y="66.9">1.2610</text>
<text x="607.3" y="109.3">1.2550</text>
<text x="691.3" y="150">1.25</text>
<text x="774" y="174.7">1.2460</text>
<text x="698.6" y="206.7">1.2423</text>
<text x="352.2" y="240.9">1.2375</text>
<text x="700.6" y="293.5">1.2330</text>
<text x="562.8" y="359">1.2250</text>
</g>
<!-- price tag -->
<path d="M944 188.8L947.4 185.1H974a1.2 1.2 0 0 1 1.2 1.2v5a1.2 1.2 0 0 1 -1.2 1.2H947.4Z" fill="#5e58a8"/>
<text x="951.2" y="190.95" textLength="22.8" lengthAdjust="spacingAndGlyphs" style="font-family:'Liberation Sans',sans-serif;font-size:6.1px" fill="#fff">1.244865</text>
<!-- stats -->
<rect x="0" y="475.8" width="140" height="15" fill="#fff"/>
<g class="st">
<text x="5" y="481.8" fill="#999">TODAY:</text><text x="32" y="481.8" fill="#999">H:</text><text x="39" y="481.8" fill="#333">1.24588</text><text x="62.5" y="481.8" fill="#999">L:</text><text x="68.3" y="481.8" fill="#333">1.24319</text><text x="94" y="481.8" fill="#4a9aaa">0.00028</text><text x="122" y="481.8" fill="#4a9aaa">0.0%</text>
<text x="5" y="489.3" fill="#999">CHART:</text><text x="32" y="489.3" fill="#999">H:</text><text x="39" y="489.3" fill="#333">1.25758</text><text x="62.5" y="489.3" fill="#999">L:</text><text x="68.3" y="489.3" fill="#333">1.20999</text><text x="94" y="489.3" fill="#d46a6a">-0.00996</text><text x="122" y="489.3" fill="#d46a6a">-0.8%</text>
</g>
<!-- bottom right drawing toolbar -->
<rect x="798" y="477.5" width="150" height="17.5" fill="#fff"/>
<g stroke="#222" fill="none" stroke-width="0.9">
<path d="M803.6 483.4l3.6 3.6" stroke-width="1.5"/><path d="M809 485.2v3.6h-3.6z" fill="#222" stroke="none"/>
<path d="M814.8 487.8c1.5 0.2 2.4-0.3 2.8-2c0.4-1.6 1.6-2 4.6-1.9" stroke-width="1.2"/>
<rect x="826.2" y="480.6" width="9.2" height="9.2" stroke-width="0.7"/><path d="M826.2 483.5h9.2M826.2 487h9.2M829.2 480.6v9.2M832.4 480.6v9.2" stroke-width="0.6" stroke-dasharray="1.2 0.8"/>
<path d="M838 490h10M838 490l8.5-4.5M838 490l6-8M838 490l1-9.5" stroke-width="0.5" stroke="#444"/>
<path d="M850.5 485.5h9.5" stroke-width="0.7"/>
<path d="M863 481.3l9.5 8.7" stroke-width="0.9"/><circle cx="863" cy="481.3" r="1" fill="#222" stroke="none"/><circle cx="872.5" cy="490" r="1" fill="#222" stroke="none"/>
<rect x="875.6" y="481.7" width="8" height="7.6" stroke-width="0.6" stroke="#555"/>
<path d="M887.3 487.9h9.4" stroke-width="0.45" stroke="#666"/>
<path d="M900.5 489l7.5-6.7" stroke-width="0.6" stroke="#444"/>
<path d="M916.5 481v9.5" stroke-width="0.6" stroke="#444"/>
<path d="M924.5 489.3l7-7" stroke-width="2.2" stroke="#333"/>
<path d="M936.8 483.5l4 4M940.8 483.5l-4 4" stroke-width="0.7" stroke="#555"/>
</g>
<text x="887.4" y="486.9" style="font-family:'Liberation Sans',sans-serif;font-size:5px" fill="#555">Abc</text>
</svg>
</body></html>
